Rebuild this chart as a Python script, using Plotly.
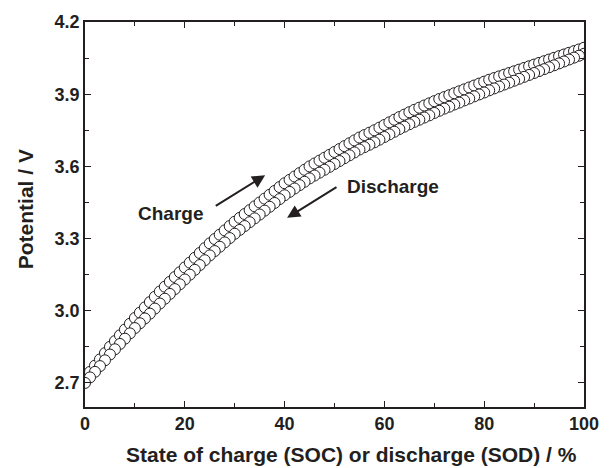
import plotly.graph_objects as go

soc = list(range(0, 101))
charge_v = [
    2.720, 2.746, 2.772, 2.798, 2.824, 2.850, 2.874, 2.898, 2.922, 2.946,
    2.970, 2.992, 3.014, 3.036, 3.058, 3.080, 3.100, 3.120, 3.140, 3.160,
    3.180, 3.200, 3.220, 3.240, 3.260, 3.280, 3.298, 3.316, 3.334, 3.352,
    3.370, 3.386, 3.402, 3.418, 3.434, 3.450, 3.466, 3.482, 3.498, 3.514,
    3.530, 3.544, 3.558, 3.572, 3.586, 3.600, 3.612, 3.624, 3.636, 3.648,
    3.660, 3.672, 3.684, 3.696, 3.708, 3.720, 3.730, 3.740, 3.750, 3.761,
    3.772, 3.783, 3.794, 3.805, 3.815, 3.825, 3.835, 3.844, 3.853, 3.862,
    3.871, 3.880, 3.888, 3.896, 3.904, 3.912, 3.920, 3.928, 3.936, 3.944,
    3.952, 3.960, 3.967, 3.974, 3.981, 3.988, 3.995, 4.002, 4.009, 4.016,
    4.023, 4.030, 4.037, 4.044, 4.051, 4.058, 4.065, 4.072, 4.079, 4.086,
    4.093,
]
discharge_v = [
    2.700, 2.723, 2.746, 2.770, 2.794, 2.818, 2.840, 2.862, 2.884, 2.906,
    2.928, 2.948, 2.968, 2.988, 3.009, 3.030, 3.050, 3.070, 3.090, 3.110,
    3.130, 3.150, 3.170, 3.190, 3.210, 3.230, 3.248, 3.266, 3.284, 3.302,
    3.320, 3.336, 3.352, 3.368, 3.384, 3.400, 3.416, 3.432, 3.448, 3.464,
    3.480, 3.494, 3.508, 3.522, 3.536, 3.550, 3.562, 3.574, 3.586, 3.598,
    3.610, 3.622, 3.634, 3.646, 3.658, 3.670, 3.680, 3.690, 3.700, 3.711,
    3.722, 3.733, 3.744, 3.755, 3.765, 3.775, 3.785, 3.794, 3.803, 3.812,
    3.822, 3.831, 3.840, 3.848, 3.857, 3.865, 3.874, 3.882, 3.891, 3.899,
    3.907, 3.916, 3.924, 3.932, 3.940, 3.948, 3.956, 3.964, 3.972, 3.980,
    3.988, 3.996, 4.004, 4.012, 4.020, 4.028, 4.036, 4.044, 4.052, 4.060,
    4.068,
]
x_ticks = [0, 20, 40, 60, 80, 100]
y_ticks = [2.7, 3.0, 3.3, 3.6, 3.9, 4.2]
y_tick_labels = ["2.7", "3.0", "3.3", "3.6", "3.9", "4.2"]

FONT = "Liberation Sans, Arial, sans-serif"
INK = "#231f20"

marker = dict(symbol="circle", size=11, color="white",
              line=dict(color=INK, width=1))

fig = go.Figure()
fig.add_trace(go.Scatter(x=soc, y=charge_v, mode="markers", marker=marker,
                         name="Charge", showlegend=False))
# discharge recorded from 100 % down to 0 %
fig.add_trace(go.Scatter(x=soc[::-1], y=discharge_v[::-1], mode="markers",
                         marker=marker, name="Discharge", showlegend=False))

axis_common = dict(
    showline=True, linecolor=INK, linewidth=1.5, mirror="allticks",
    ticks="inside", ticklen=6, tickwidth=1.2, tickcolor=INK,
    showgrid=False, zeroline=False,
    tickfont=dict(family=FONT, size=18, color=INK, weight="bold"),
    minor=dict(ticks="inside", ticklen=4, tickwidth=1.2, tickcolor=INK,
               showgrid=False),
)

fig.update_layout(
    width=611, height=468,
    margin=dict(l=85, r=27, t=18, b=61),
    paper_bgcolor="white", plot_bgcolor="white",
    xaxis=dict(range=[0, 100], tickvals=x_ticks, **axis_common),
    yaxis=dict(range=[2.6, 4.2], tickvals=y_ticks, ticktext=y_tick_labels,
               **axis_common),
)
fig.update_xaxes(minor=dict(dtick=10, tick0=0))
fig.update_yaxes(minor=dict(dtick=0.15, tick0=2.7))

title_font = dict(family=FONT, size=21, color=INK, weight="bold")
fig.add_annotation(xref="paper", yref="paper", x=0.535, y=-0.1234,
                   xanchor="center", yanchor="middle", showarrow=False,
                   text="State of charge (SOC) or discharge (SOD) / %",
                   font=title_font)
fig.add_annotation(xref="paper", yref="paper", x=-0.120, y=0.514,
                   xanchor="center", yanchor="middle", showarrow=False,
                   text="Potential / V", textangle=-90, font=title_font)

ann_font = dict(family=FONT, size=19, color=INK, weight="bold")
fig.add_annotation(x=17.2, y=3.403, text="Charge", showarrow=False, font=ann_font)
fig.add_annotation(x=61.7, y=3.518, text="Discharge", showarrow=False, font=ann_font)
fig.add_annotation(x=36.1, y=3.563, ax=25.9, ay=3.432, axref="x", ayref="y",
                   text="", showarrow=True, arrowhead=2, arrowsize=1.3,
                   arrowwidth=2, arrowcolor=INK)
fig.add_annotation(x=40.5, y=3.386, ax=50.7, ay=3.518, axref="x", ayref="y",
                   text="", showarrow=True, arrowhead=2, arrowsize=1.3,
                   arrowwidth=2, arrowcolor=INK)

fig.write_html("out.html")
